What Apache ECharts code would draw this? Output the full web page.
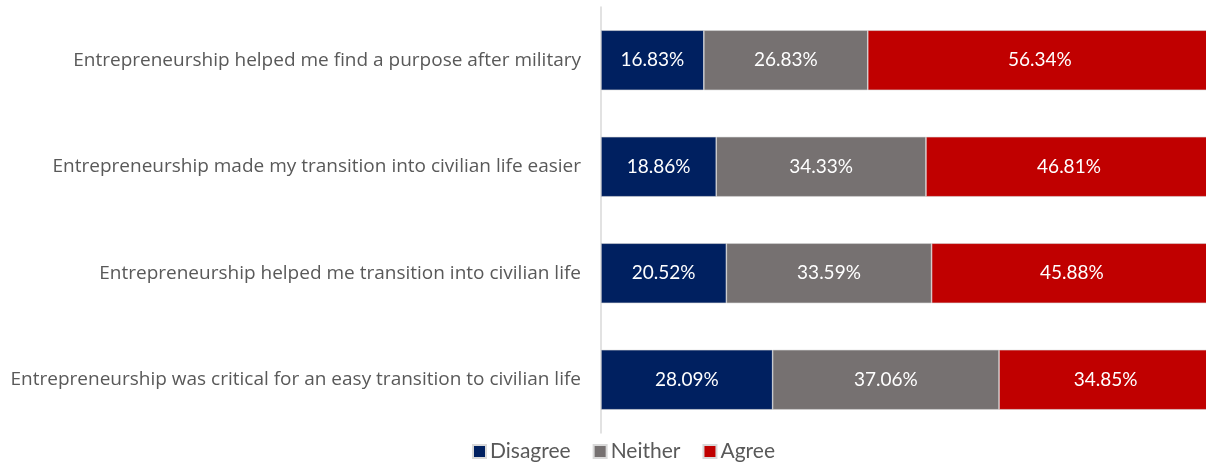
<!DOCTYPE html>
<html>
<head>
<meta charset="utf-8">
<script src="https://cdn.jsdelivr.net/npm/echarts@6/dist/echarts.min.js"></script>
<style>
  html, body { margin: 0; padding: 0; background: #fff; }
  #chart { width: 1206px; height: 464px; }
</style>
</head>
<body>
<div id="chart"></div>
<script>
const categories = [
  'Entrepreneurship helped me find a purpose after military',
  'Entrepreneurship made my transition into civilian life easier',
  'Entrepreneurship helped me transition into civilian life',
  'Entrepreneurship was critical for an easy transition to civilian life'
];
const disagree = [16.83, 18.86, 20.52, 28.09];
const neither  = [26.83, 34.33, 33.59, 37.06];
const agree    = [56.34, 46.81, 45.88, 34.85];

const seriesNames = ['Disagree', 'Neither', 'Agree'];
const seriesColors = ['#002060', '#767171', '#C00000'];
const seriesData = [disagree, neither, agree];

const LABEL_FONT = '"Open Sans", Lato, sans-serif';
const FONT = 'Lato, "Open Sans", sans-serif';

const chart = echarts.init(document.getElementById('chart'));
chart.setOption({
  animation: false,
  // plot area runs a little past the right edge of the canvas
  grid: { left: 601, width: 611, top: 7, bottom: 31, containLabel: false, outerBoundsMode: 'none' },
  legend: {
    top: 436,
    left: 467,
    itemWidth: 13,
    itemHeight: 13,
    itemGap: 22,
    icon: 'rect',
    textStyle: { color: '#595959', fontSize: 21, fontFamily: FONT, padding: [0, 0, 0, -1] },
    data: seriesNames
  },
  xAxis: {
    type: 'value',
    min: 0,
    max: 100,
    show: false
  },
  yAxis: {
    type: 'category',
    inverse: true,
    data: categories,
    axisLine: { show: true, lineStyle: { color: '#d9d9d9', width: 1.5 } },
    axisTick: { show: false },
    axisLabel: { color: '#595959', fontSize: 19, fontFamily: LABEL_FONT, margin: 20 }
  },
  series: seriesData.map((d, i) => ({
    name: seriesNames[i],
    type: 'bar',
    stack: 'total',
    barWidth: 60,
    data: d,
    itemStyle: { color: seriesColors[i], borderColor: '#d9d9d9', borderWidth: 0.6 },
    label: {
      show: true,
      position: 'inside',
      color: '#ffffff',
      fontSize: 19,
      fontFamily: FONT,
      formatter: p => p.value.toFixed(2) + '%'
    }
  }))
});
</script>
</body>
</html>
